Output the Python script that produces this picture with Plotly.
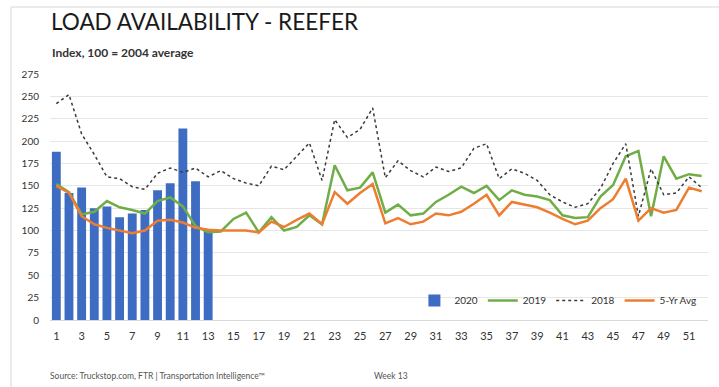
import plotly.graph_objects as go

weeks = list(range(1, 53))
tick_weeks = list(range(1, 52, 2))
bars_2020 = [188, 142, 148, 125, 127, 115, 119, 123, 145, 153, 214, 155, 100]
y2019 = [152, 143, 118, 121, 133, 126, 123, 119, 133, 137, 127, 105, 98, 99,
         113, 120, 98, 115, 100, 104, 117, 107, 173, 145, 148, 165, 120, 129,
         117, 119, 132, 140, 149, 142, 150, 134, 145, 140, 138, 134, 117, 114,
         115, 138, 151, 183, 189, 116, 183, 158, 163, 161]
y2018 = [242, 252, 208, 185, 160, 158, 149, 146, 164, 170, 165, 170, 160, 167,
         158, 153, 150, 172, 168, 183, 198, 156, 224, 204, 213, 237, 159, 178,
         167, 160, 171, 166, 170, 192, 197, 158, 169, 164, 156, 140, 132, 126,
         130, 147, 175, 197, 116, 169, 140, 142, 160, 148]
avg5 = [150, 142, 116, 107, 103, 100, 97, 100, 111, 112, 109, 103, 101, 100,
        100, 100, 98, 110, 104, 112, 119, 107, 143, 130, 142, 152, 108, 114,
        107, 110, 119, 117, 121, 130, 140, 117, 132, 129, 126, 120, 113, 107,
        111, 125, 135, 158, 111, 125, 120, 123, 148, 144]
y_ticks = list(range(0, 276, 25))

FONT = "Lato"
fig = go.Figure()
fig.add_trace(go.Bar(x=weeks[:len(bars_2020)], y=bars_2020, name="2020",
                     marker=dict(color="#3f6cc3", line=dict(width=0))))
fig.add_trace(go.Scatter(x=weeks, y=y2019, name="2019", mode="lines",
                         line=dict(color="#70ad47", width=2.5)))
fig.add_trace(go.Scatter(x=weeks, y=y2018, name="2018", mode="lines",
                         line=dict(color="#3a3a3a", width=1.5, dash="dot")))
fig.add_trace(go.Scatter(x=weeks, y=avg5, name="5-Yr Avg", mode="lines",
                         line=dict(color="#ed7d31", width=2.5)))

fig.update_layout(
    width=719, height=387,
    margin=dict(l=50, r=11, t=74, b=67),
    paper_bgcolor="white", plot_bgcolor="white",
    bargap=0.3,
    font=dict(family=FONT, color="#404040"),
    showlegend=True,
    legend=dict(orientation="h", x=0.99, xanchor="right", y=0.02, yanchor="bottom",
                bgcolor="rgba(0,0,0,0)", font=dict(size=10, color="#333333"),
                itemwidth=30, tracegroupgap=0, traceorder="normal"),
    xaxis=dict(range=[0.5, 52.5], tickmode="array", tickvals=tick_weeks,
               ticktext=[str(t) for t in tick_weeks], showgrid=False,
               showline=True, linecolor="#d9d9d9", ticks="",
               tickfont=dict(size=11, color="#333333", family=FONT), ticklabelstandoff=6),
    yaxis=dict(range=[0, 275], tickmode="array", tickvals=y_ticks,
               showgrid=True, gridcolor="#e6e6e6", gridwidth=1, zeroline=False,
               ticks="", tickfont=dict(size=10, color="#333333", family=FONT),
               ticklabelstandoff=10),
    annotations=[
        dict(text="LOAD AVAILABILITY - REEFER", x=49, y=387 - 21, xref="paper", yref="paper",
             showarrow=False, xanchor="left", yanchor="middle",
             font=dict(size=22.5, color="#1a1a1a", family=FONT)),
        dict(text="<b>Index, 100 = 2004 average</b>", x=50, y=387 - 52, xref="paper", yref="paper",
             showarrow=False, xanchor="left", yanchor="middle",
             font=dict(size=12, color="#333333", family=FONT)),
        dict(text="Source: Truckstop.com, FTR | Transportation Intelligence™", x=48, y=387 - 376,
             xref="paper", yref="paper", showarrow=False, xanchor="left", yanchor="middle",
             font=dict(size=8.5, color="#555555", family=FONT)),
        dict(text="Week 13", x=372, y=387 - 376, xref="paper", yref="paper",
             showarrow=False, xanchor="left", yanchor="middle",
             font=dict(size=8.5, color="#555555", family=FONT)),
    ],
    shapes=[
        dict(type="line", xref="paper", yref="paper", x0=11, x1=719, y0=387 - 7, y1=387 - 7,
             line=dict(color="#e4e4e4", width=1.5)),
        dict(type="line", xref="paper", yref="paper", x0=11, x1=11, y0=0, y1=387 - 7,
             line=dict(color="#e4e4e4", width=1.5)),
    ],
)

# convert pixel-based annotation/shape positions to paper fractions
pw = 719 - 50 - 11
ph = 387 - 74 - 67
for a in fig.layout.annotations:
    a.x = (a.x - 50) / pw
    a.y = (a.y - 67) / ph
for s in fig.layout.shapes:
    s.x0 = (s.x0 - 50) / pw
    s.x1 = (s.x1 - 50) / pw
    s.y0 = (s.y0 - 67) / ph
    s.y1 = (s.y1 - 67) / ph

fig.write_html("out.html")
